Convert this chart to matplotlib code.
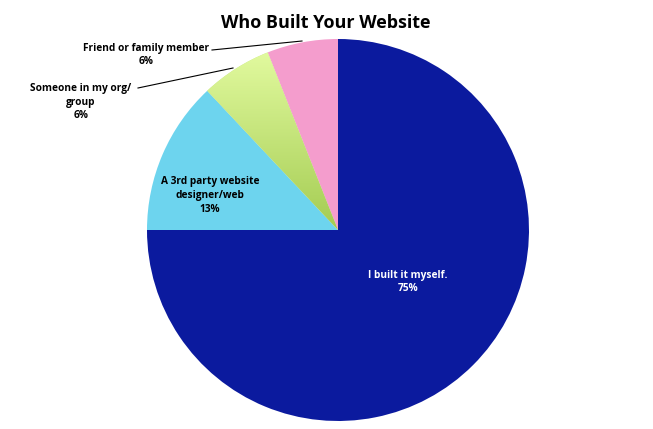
import numpy as np
import matplotlib.pyplot as plt
from matplotlib.colors import LinearSegmentedColormap

labels = ['I built it myself.', 'A 3rd party website\ndesigner/web', 'Someone in my org/\ngroup', 'Friend or family member']
values = [75, 13, 6, 6]
colors = ['#0b1a9e', '#6dd4ee', '#c6e68a', '#f49dcd']

W, H = 653, 429
fig = plt.figure(figsize=(W / 100, H / 100), dpi=100)
ax = fig.add_axes([0, 0, 1, 1])

cx, cy, r = 338, H - 230, 191
wedges, _ = ax.pie(values, colors=colors, startangle=90, counterclock=False,
                   center=(cx, cy), radius=r, frame=True)
ax.set_xlim(0, W)
ax.set_ylim(0, H)
ax.set_aspect('equal')
ax.axis('off')

# gradient on the green slice
grad = np.linspace(0, 1, 256).reshape(-1, 1)
cmap = LinearSegmentedColormap.from_list('g', ['#a4cc52', '#e6fda4'])
im = ax.imshow(grad, cmap=cmap, origin='lower', aspect='auto',
               extent=(cx - r, cx, cy, cy + r), zorder=2)
im.set_clip_path(wedges[2])

font = 'Open Sans'
fig.text(326 / W, 1 - 23 / H, 'Who Built Your Website', ha='center', va='center',
         fontsize=13, fontweight='bold', family=font)

kw = dict(ha='center', va='center', fontsize=7.3, fontweight='bold', family=font, linespacing=1.35)
ax.text(408, H - 282, labels[0] + '\n%d%%' % values[0], color='white', **kw)
ax.text(210, H - 195.5, labels[1] + '\n%d%%' % values[1], color='black', **kw)
ax.text(81, H - 102, labels[2] + '\n%d%%' % values[2], color='black', **kw)
ax.text(146, H - 55, labels[3] + '\n%d%%' % values[3], color='black', **kw)

# leader lines
ax.plot([138, 233], [H - 88, H - 68], color='black', lw=0.8)
ax.plot([212, 302], [H - 50, H - 41], color='black', lw=0.8)

fig.savefig('out.png', dpi=100)
